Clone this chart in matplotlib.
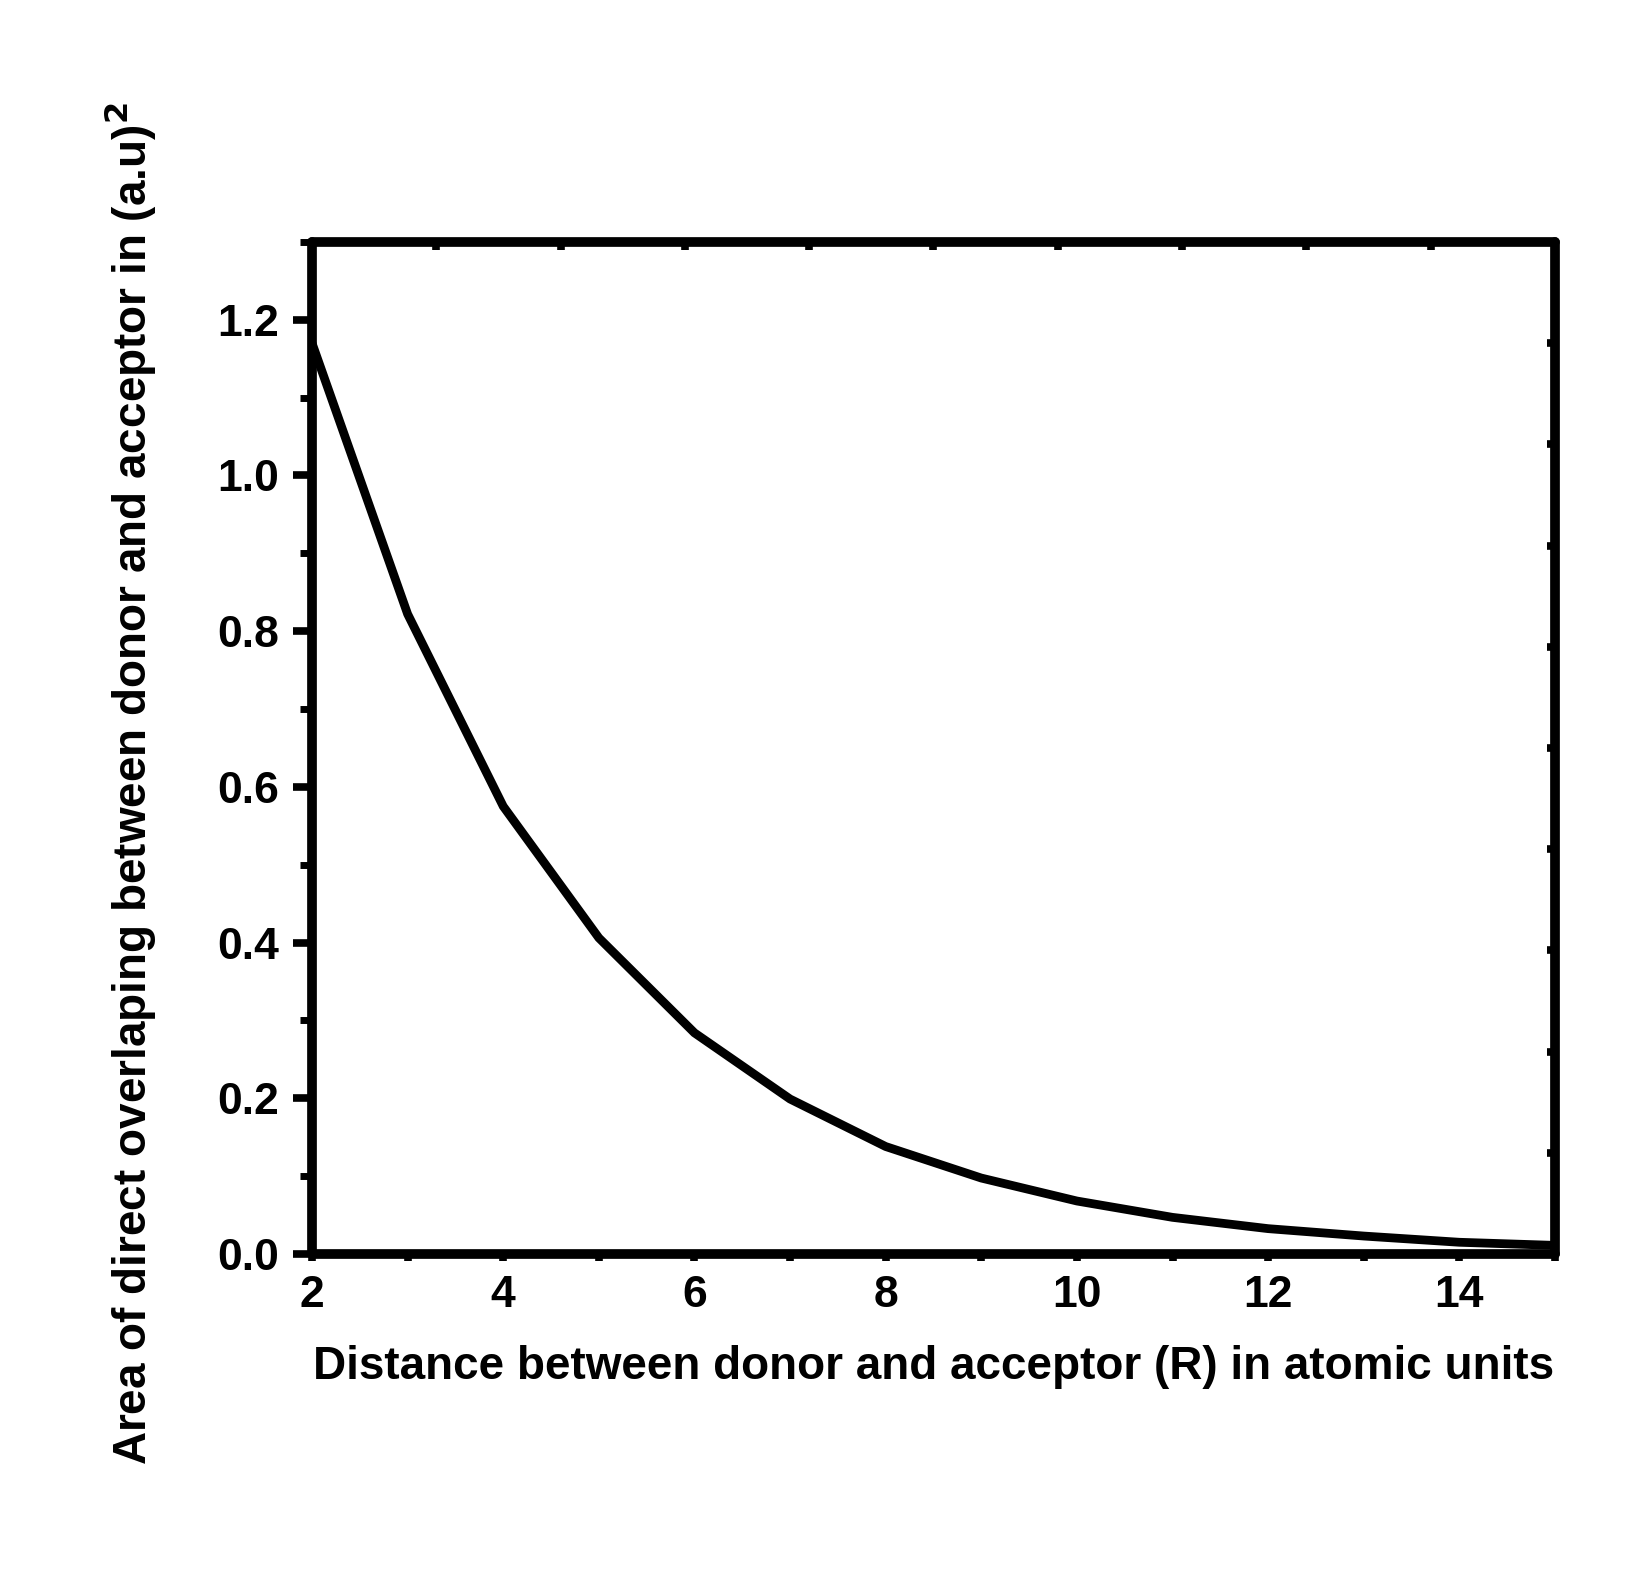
import matplotlib
matplotlib.use('Agg')
import matplotlib.pyplot as plt
from matplotlib.ticker import MultipleLocator

# distance R (atomic units) and overlap area
r_values = [2, 3, 4, 5, 6, 7, 8, 9, 10, 11, 12, 13, 14, 15]
area_values = [1.17, 0.822, 0.575, 0.406, 0.284, 0.199, 0.138, 0.0975,
               0.068, 0.047, 0.0325, 0.023, 0.015, 0.011]

# odd little tick dots on the top and right frame
top_ticks = [3.3, 4.6, 5.9, 7.2, 8.5, 9.8, 11.1, 12.4, 13.7]
right_ticks = [0.13, 0.26, 0.39, 0.52, 0.65, 0.78, 0.91, 1.04, 1.17]

plt.rcParams['font.family'] = ['Liberation Sans', 'DejaVu Sans']
plt.rcParams['font.weight'] = 'bold'

fig = plt.figure(figsize=(16.5, 15.69), dpi=100)
ax = fig.add_axes([0.1891, 0.2008, 0.7533, 0.6450])

ax.plot(r_values, area_values, color='black', linewidth=6.3,
        solid_capstyle='butt', solid_joinstyle='miter')

ax.set_xlim(2, 15)
ax.set_ylim(0, 1.3)
ax.xaxis.set_major_locator(MultipleLocator(2))
ax.xaxis.set_minor_locator(MultipleLocator(1))
ax.yaxis.set_major_locator(MultipleLocator(0.2))
ax.yaxis.set_minor_locator(MultipleLocator(0.1))
ax.yaxis.set_major_formatter(plt.FuncFormatter(lambda v, p: '%.1f' % v))

for s in ax.spines.values():
    s.set_linewidth(7)
    s.set_capstyle('round')

ax.tick_params(axis='y', which='major', direction='out', length=14, width=5.5,
               labelsize=32, pad=10)
ax.tick_params(axis='y', which='minor', direction='out', length=9, width=5)
ax.tick_params(axis='x', which='both', direction='out', length=5, width=5.5,
               labelsize=32, pad=10)
for t in ax.xaxis.get_majorticklines() + ax.yaxis.get_majorticklines() + \
        ax.xaxis.get_minorticklines() + ax.yaxis.get_minorticklines():
    t.set_solid_capstyle('round')
for lab in ax.get_xticklabels() + ax.get_yticklabels():
    lab.set_fontweight('bold')

ax_top = ax.secondary_xaxis('top')
ax_top.set_xticks(top_ticks)
ax_top.tick_params(direction='in', length=6, width=5.5, labeltop=False)
ax_top.spines['top'].set_visible(False)
ax_right = ax.secondary_yaxis('right')
ax_right.set_yticks(right_ticks)
ax_right.tick_params(direction='in', length=6, width=5.5, labelright=False)
ax_right.spines['right'].set_visible(False)
for t in ax_top.xaxis.get_majorticklines() + ax_right.yaxis.get_majorticklines():
    t.set_solid_capstyle('round')

ax.set_xlabel('Distance between donor and acceptor (R) in atomic units',
              fontsize=33, fontweight='bold')
ax.xaxis.set_label_coords(0.5, -0.09)
ax.set_ylabel('Area of direct overlaping between donor and acceptor in (a.u)$^\\mathbf{2}$',
              fontsize=33, fontweight='bold')
ax.yaxis.set_label_coords(-0.124, 0.465)

fig.savefig('out.png', dpi=100)
